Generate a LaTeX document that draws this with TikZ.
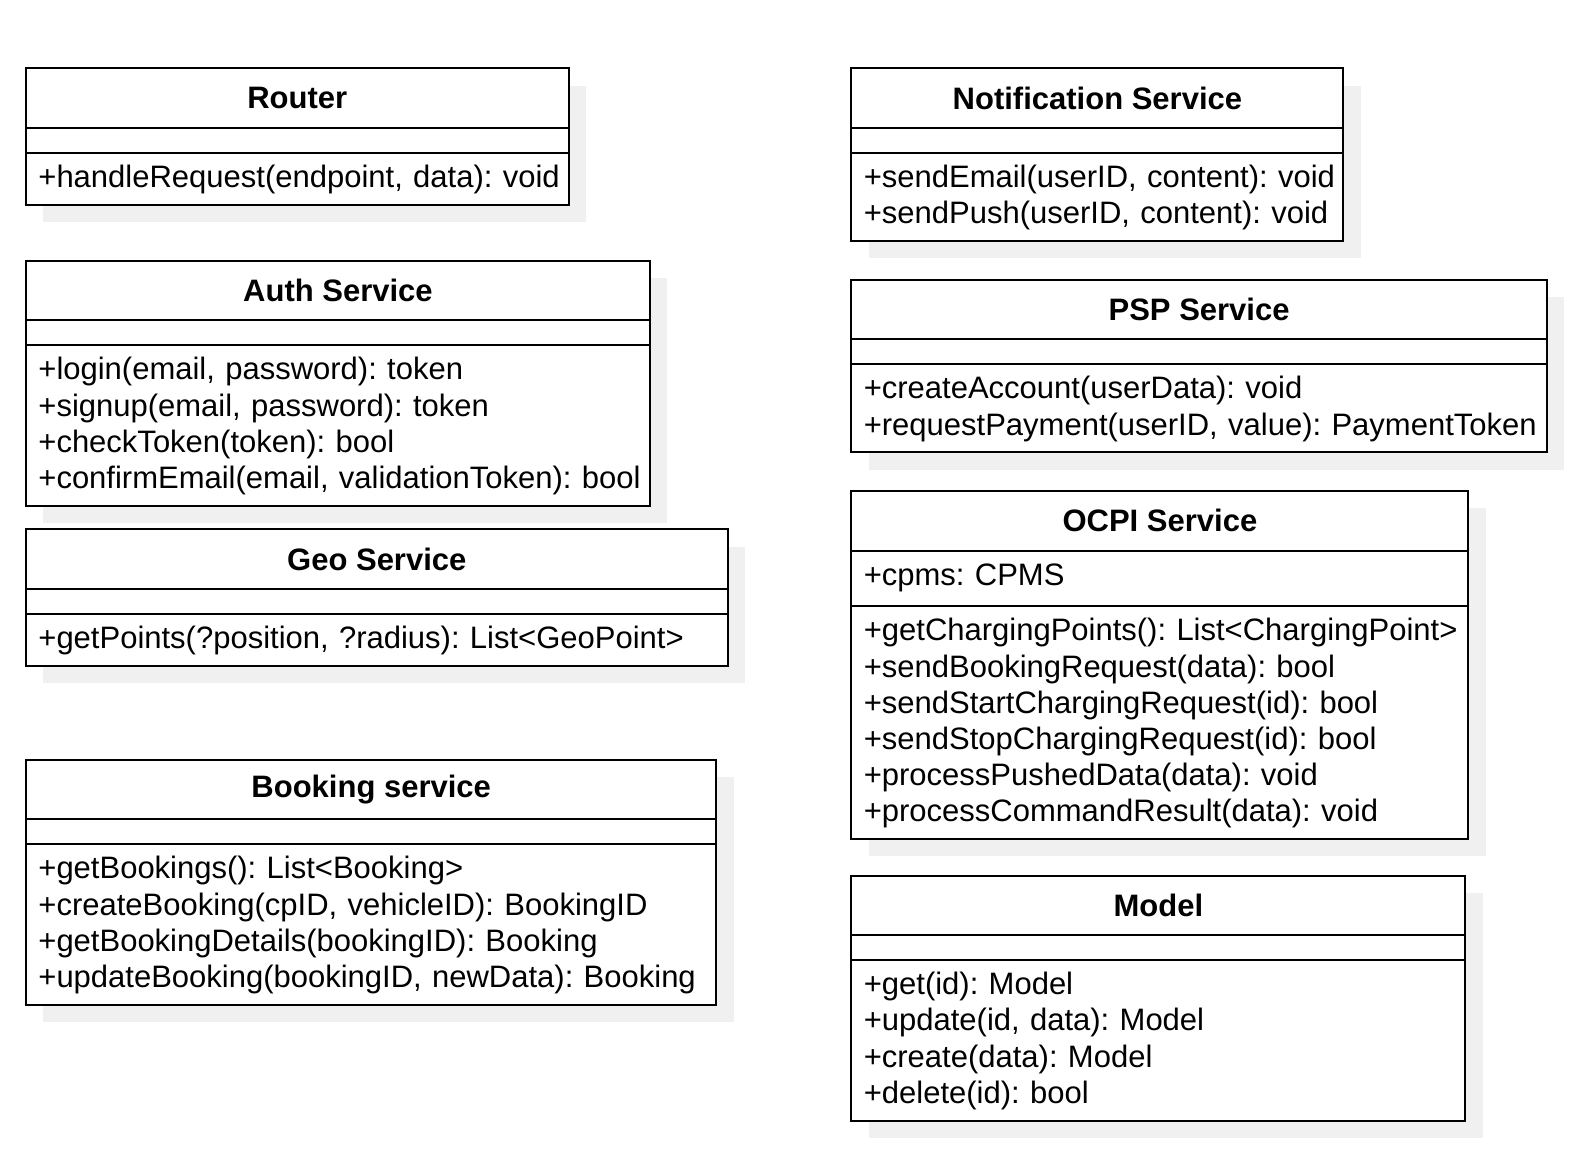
\documentclass[tikz,border=0pt]{standalone}
\usepackage{fontspec}
\setmainfont{Liberation Sans}
\frenchspacing
\usepackage{tikz}
\usetikzlibrary{shadows,positioning}
\definecolor{shadowgray}{RGB}{240,240,240}
\tikzset{
  classbox/.style={draw, fill=white, line width=1pt, inner sep=0pt, outer sep=0pt,
    drop shadow={shadow xshift=8.6pt, shadow yshift=-8.6pt, fill=shadowgray, opacity=1}},
  classtitle/.style={classbox, anchor=north west, minimum height=29.7pt,
    font=\fontsize{15.5}{18.1}\selectfont\bfseries},
  classpart/.style={classbox, minimum height=12.35pt},
  members/.style={anchor=base west, inner sep=0pt, text width=400pt, align=left,
    font=\fontsize{15.5}{18.1}\selectfont}
}
\begin{document}
\begin{tikzpicture}[x=0.5pt, y=-0.5pt]
    \useasboundingbox (0,0) rectangle (1578,1148);
    % Left column
    \node[classtitle, minimum width=271.3pt] (router) at (26,68.4) {Router};
    \node[classpart, minimum width=271.3pt, below=0pt of router] (routerattr) {};
    \node[classpart, minimum width=271.3pt, minimum height=26.1pt, below=0pt of routerattr] (routerops) {};
    \node[members] (routerlist) at ([shift={(6pt,-17.5pt)}]routerops.north west) {+handleRequest(endpoint, data): void};

    \node[classtitle, minimum width=312pt] (auth) at (26,260.7) {Auth Service};
    \node[classpart, minimum width=312pt, below=0pt of auth] (authattr) {};
    \node[classpart, minimum width=312pt, minimum height=80.4pt, below=0pt of authattr] (authops) {};
    \node[members] (authlist) at ([shift={(6pt,-17.5pt)}]authops.north west) {+login(email, password): token\\+signup(email, password): token\\+checkToken(token): bool\\+confirmEmail(email, validationToken): bool};

    \node[classtitle, minimum width=350.8pt] (geo) at (26,529.4) {Geo Service};
    \node[classpart, minimum width=350.8pt, below=0pt of geo] (geoattr) {};
    \node[classpart, minimum width=350.8pt, minimum height=26.1pt, below=0pt of geoattr] (geoops) {};
    \node[members] (geolist) at ([shift={(6pt,-17.5pt)}]geoops.north west) {+getPoints(?position, ?radius): List<GeoPoint>};

    \node[classtitle, minimum width=345.2pt] (booking) at (26,759.8) {Booking service};
    \node[classpart, minimum width=345.2pt, below=0pt of booking] (bookingattr) {};
    \node[classpart, minimum width=345.2pt, minimum height=80.4pt, below=0pt of bookingattr] (bookingops) {};
    \node[members] (bookinglist) at ([shift={(6pt,-17.5pt)}]bookingops.north west) {+getBookings(): List<Booking>\\+createBooking(cpID, vehicleID): BookingID\\+getBookingDetails(bookingID): Booking\\+updateBooking(bookingID, newData): Booking};

    % Right column
    \node[classtitle, minimum width=246pt] (notification) at (851.4,68.4) {Notification Service};
    \node[classpart, minimum width=246pt, below=0pt of notification] (notificationattr) {};
    \node[classpart, minimum width=246pt, minimum height=44.2pt, below=0pt of notificationattr] (notificationops) {};
    \node[members] (notificationlist) at ([shift={(6pt,-17.5pt)}]notificationops.north west) {+sendEmail(userID, content): void\\+sendPush(userID, content): void};

    \node[classtitle, minimum width=347.7pt] (psp) at (851.4,279.8) {PSP Service};
    \node[classpart, minimum width=347.7pt, below=0pt of psp] (pspattr) {};
    \node[classpart, minimum width=347.7pt, minimum height=44.2pt, below=0pt of pspattr] (pspops) {};
    \node[members] (psplist) at ([shift={(6pt,-17.5pt)}]pspops.north west) {+createAccount(userData): void\\+requestPayment(userID, value): PaymentToken};

    \node[classtitle, minimum width=308.5pt] (ocpi) at (851.4,491.1) {OCPI Service};
    \node[classpart, minimum width=308.5pt, minimum height=27.7pt, below=0pt of ocpi] (ocpiattr) {};
    \node[members] (ocpifields) at ([shift={(6pt,-17.5pt)}]ocpiattr.north west) {+cpms: CPMS};
    \node[classpart, minimum width=308.5pt, minimum height=116.4pt, below=0pt of ocpiattr] (ocpiops) {};
    \node[members] (ocpilist) at ([shift={(6pt,-17.5pt)}]ocpiops.north west) {+getChargingPoints(): List<ChargingPoint>\\+sendBookingRequest(data): bool\\+sendStartChargingRequest(id): bool\\+sendStopChargingRequest(id): bool\\+processPushedData(data): void\\+processCommandResult(data): void};

    \node[classtitle, minimum width=307pt] (model) at (851.4,875.6) {Model};
    \node[classpart, minimum width=307pt, below=0pt of model] (modelattr) {};
    \node[classpart, minimum width=307pt, minimum height=80.4pt, below=0pt of modelattr] (modelops) {};
    \node[members] (modellist) at ([shift={(6pt,-17.5pt)}]modelops.north west) {+get(id): Model\\+update(id, data): Model\\+create(data): Model\\+delete(id): bool};
\end{tikzpicture}
\end{document}
